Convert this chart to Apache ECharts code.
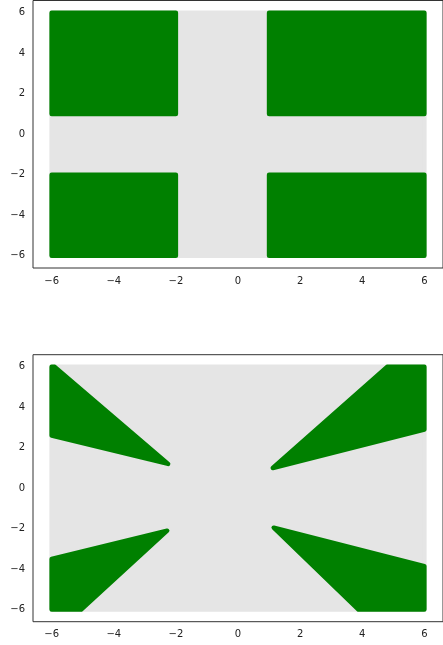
<!DOCTYPE html>
<html>
<head>
<meta charset="utf-8">
<script src="https://cdn.jsdelivr.net/npm/echarts@6/dist/echarts.min.js"></script>
<style>html,body{margin:0;padding:0;background:#fff}#c{width:443px;height:645px}</style>
</head>
<body>
<div id="c"></div>
<script>
// Tick values shared by both panels
const tickValues = [-6, -4, -2, 0, 2, 4, 6];
const axisMin = -6.6;
const axisMax = 6.6;

// Full sampled area (gray points)
const sampledArea = [[-6, -6], [6, -6], [6, 6], [-6, 6]];

// Top panel: green regions (x<-2 or x>1) and (y>1 or y<-2)
const topGreen = [
  [[-6, 1], [-2, 1], [-2, 6], [-6, 6]],
  [[1, 1], [6, 1], [6, 6], [1, 6]],
  [[-6, -6], [-2, -6], [-2, -2], [-6, -2]],
  [[1, -6], [6, -6], [6, -2], [1, -2]]
];

// Bottom panel: green wedges
const bottomGreen = [
  [[-6, 6], [-5.9, 6], [-2.25, 1.2], [-6, 2.6]],
  [[1.12, 1.0], [4.8, 6], [6, 6], [6, 2.9]],
  [[-2.28, -2.1], [-6, -3.5], [-6, -6], [-5.05, -6]],
  [[1.15, -1.95], [6, -3.85], [6, -6], [3.88, -6]]
];

const grayColor = '#e5e5e5';
const greenColor = '#008000';

function regionSeries(regions, color, axisIdx, z) {
  return {
    type: 'custom',
    xAxisIndex: axisIdx,
    yAxisIndex: axisIdx,
    z: z,
    silent: true,
    clip: false,
    data: regions.map((r, i) => [r[0][0], r[0][1], i]),
    encode: { x: 0, y: 1 },
    renderItem: function (params, api) {
      const poly = regions[api.value(2)];
      const pts = poly.map(p => api.coord(p));
      return {
        type: 'polygon',
        shape: { points: pts },
        style: { fill: color, stroke: color, lineWidth: 4.5, lineJoin: 'round' }
      };
    }
  };
}

function makeAxis(gridIndex, isX) {
  return {
    type: 'value',
    gridIndex: gridIndex,
    min: axisMin,
    max: axisMax,
    splitLine: { show: false },
    axisLine: { show: false },
    axisTick: { show: true, inside: false, length: 4, lineStyle: { color: '#333', width: 1 }, customValues: tickValues },
    axisLabel: {
      show: true,
      customValues: tickValues,
      margin: isX ? 8 : 8,
      fontFamily: 'DejaVu Sans',
      fontSize: 10,
      color: '#222',
      formatter: v => String(v).replace('-', '\u2212')
    }
  };
}

const chart = echarts.init(document.getElementById('c'), null, { renderer: 'canvas' });
chart.setOption({
  animation: false,
  backgroundColor: '#ffffff',
  grid: [
    { left: 33, top: 0.5, width: 412.6, height: 267.5, show: true, borderColor: '#333', borderWidth: 1, backgroundColor: 'transparent' },
    { left: 33, top: 354.7, width: 412.6, height: 267, show: true, borderColor: '#333', borderWidth: 1, backgroundColor: 'transparent' }
  ],
  xAxis: [makeAxis(0, true), makeAxis(1, true)],
  yAxis: [makeAxis(0, false), makeAxis(1, false)],
  series: [
    regionSeries([sampledArea], grayColor, 0, 1),
    regionSeries(topGreen, greenColor, 0, 2),
    regionSeries([sampledArea], grayColor, 1, 1),
    regionSeries(bottomGreen, greenColor, 1, 2)
  ]
});
</script>
</body>
</html>
